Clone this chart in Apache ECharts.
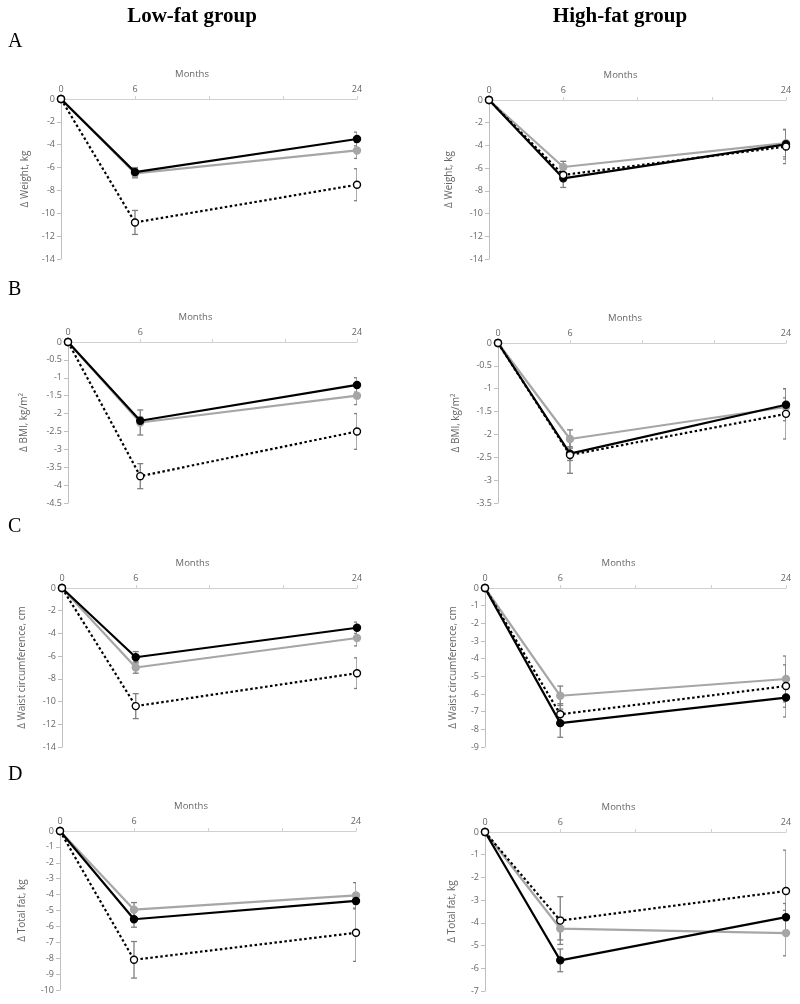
<!DOCTYPE html>
<html><head><meta charset="utf-8">
<script src="https://cdn.jsdelivr.net/npm/echarts@6/dist/echarts.min.js"></script>
<style>html,body{margin:0;padding:0;background:#fff}#c{width:800px;height:1004px}</style>
</head><body><div id="c"></div>
<script>
// ---- data ----
const months = [0, 6, 24];
const monthTickLabels = [0, 6, 24];
const columnTitles = ['Low-fat group', 'High-fat group'];
const rowLetters = ['A', 'B', 'C', 'D'];
const yNames = ['\u0394 Weight, kg', '\u0394 BMI, kg/m\u00b2', '\u0394 Waist circumference, cm', '\u0394 Total fat, kg'];
const xName = 'Months';

// Low-fat: weight
const lfWeightBlack = [0, -6.4, -3.5],  lfWeightBlackErr = [0, 0.4, 0.6];
const lfWeightGrey  = [0, -6.5, -4.5],  lfWeightGreyErr  = [0, 0.4, 0.7];
const lfWeightOpen  = [0, -10.8, -7.5], lfWeightOpenErr  = [0, 1.05, 1.4];
// High-fat: weight
const hfWeightBlack = [0, -6.9, -3.9],  hfWeightBlackErr = [0, 0.8, 1.3];
const hfWeightGrey  = [0, -5.9, -3.8],  hfWeightGreyErr  = [0, 0.5, 1.2];
const hfWeightOpen  = [0, -6.6, -4.1],  hfWeightOpenErr  = [0, 0.5, 1.5];
// Low-fat: BMI
const lfBmiBlack = [0, -2.2, -1.2],   lfBmiBlackErr = [0, 0.1, 0.2];
const lfBmiGrey  = [0, -2.25, -1.5],  lfBmiGreyErr  = [0, 0.35, 0.25];
const lfBmiOpen  = [0, -3.75, -2.5],  lfBmiOpenErr  = [0, 0.35, 0.5];
// High-fat: BMI
const hfBmiBlack = [0, -2.42, -1.35], hfBmiBlackErr = [0, 0.15, 0.35];
const hfBmiGrey  = [0, -2.1, -1.4],   hfBmiGreyErr  = [0, 0.2, 0.2];
const hfBmiOpen  = [0, -2.45, -1.55], hfBmiOpenErr  = [0, 0.4, 0.55];
// Low-fat: waist
const lfWaistBlack = [0, -6.1, -3.5],  lfWaistBlackErr = [0, 0.5, 0.5];
const lfWaistGrey  = [0, -7.0, -4.4],  lfWaistGreyErr  = [0, 0.5, 0.7];
const lfWaistOpen  = [0, -10.4, -7.5], lfWaistOpenErr  = [0, 1.1, 1.35];
// High-fat: waist
const hfWaistBlack = [0, -7.65, -6.2], hfWaistBlackErr = [0, 0.8, 1.1];
const hfWaistGrey  = [0, -6.1, -5.15], hfWaistGreyErr  = [0, 0.55, 1.3];
const hfWaistOpen  = [0, -7.15, -5.55],hfWaistOpenErr  = [0, 0.6, 1.2];
// Low-fat: total fat
const lfFatBlack = [0, -5.55, -4.4], lfFatBlackErr = [0, 0.5, 0.5];
const lfFatGrey  = [0, -4.95, -4.05],lfFatGreyErr  = [0, 0.45, 0.8];
const lfFatOpen  = [0, -8.1, -6.4],  lfFatOpenErr  = [0, 1.15, 1.8];
// High-fat: total fat
const hfFatBlack = [0, -5.65, -3.75], hfFatBlackErr = [0, 0.5, 0.6];
const hfFatGrey  = [0, -4.25, -4.45], hfFatGreyErr  = [0, 0.5, 1.0];
const hfFatOpen  = [0, -3.9, -2.6],   hfFatOpenErr  = [0, 1.05, 1.8];

// y axis ranges [min, interval]
const yRanges = [[-14, 2], [-14, 2], [-4.5, 0.5], [-3.5, 0.5], [-14, 2], [-9, 1], [-10, 1], [-7, 1]];

// ---- layout ----
const panels = [
  {row:0, col:0, box:[61, 99, 296, 160], nameGap:31, s:[lfWeightBlack, lfWeightGrey, lfWeightOpen], e:[lfWeightBlackErr, lfWeightGreyErr, lfWeightOpenErr]},
  {row:0, col:1, box:[489, 100, 297, 159], nameGap:35, s:[hfWeightBlack, hfWeightGrey, hfWeightOpen], e:[hfWeightBlackErr, hfWeightGreyErr, hfWeightOpenErr]},
  {row:1, col:0, box:[68, 342, 289, 161], nameGap:39, s:[lfBmiBlack, lfBmiGrey, lfBmiOpen], e:[lfBmiBlackErr, lfBmiGreyErr, lfBmiOpenErr]},
  {row:1, col:1, box:[498, 343, 288, 160], nameGap:37, s:[hfBmiBlack, hfBmiGrey, hfBmiOpen], e:[hfBmiBlackErr, hfBmiGreyErr, hfBmiOpenErr]},
  {row:2, col:0, box:[62, 588, 295, 159], nameGap:35, s:[lfWaistBlack, lfWaistGrey, lfWaistOpen], e:[lfWaistBlackErr, lfWaistGreyErr, lfWaistOpenErr]},
  {row:2, col:1, box:[485, 588, 301, 159], nameGap:27, s:[hfWaistBlack, hfWaistGrey, hfWaistOpen], e:[hfWaistBlackErr, hfWaistGreyErr, hfWaistOpenErr]},
  {row:3, col:0, box:[60, 831, 296, 159], nameGap:33, s:[lfFatBlack, lfFatGrey, lfFatOpen], e:[lfFatBlackErr, lfFatGreyErr, lfFatOpenErr]},
  {row:3, col:1, box:[485, 832, 301, 159], nameGap:28, s:[hfFatBlack, hfFatGrey, hfFatOpen], e:[hfFatBlackErr, hfFatGreyErr, hfFatOpenErr]}
];

const TXT = '#666666', AX = '#d0d0d0', GREY = '#a6a6a6', ERR = '#7f7f7f';
const FONT = '"Open Sans", "Noto Sans", sans-serif';

const grid = [], xAxis = [], yAxis = [], series = [], graphic = [];

const titleX = [192, 620];
columnTitles.forEach((t, i) => graphic.push({type:'text', x: titleX[i], y: 17,
  style:{text:t, fill:'#000', font:'bold 21px "Liberation Serif", "Times New Roman", serif', textAlign:'center', textVerticalAlign:'middle'}}));
const letterY = [42, 290, 527, 775];
rowLetters.forEach((t, i) => graphic.push({type:'text', x:8, y:letterY[i],
  style:{text:t, fill:'#000', font:'20px "Liberation Serif", "Times New Roman", serif', textAlign:'left', textVerticalAlign:'middle'}}));

panels.forEach((p, k) => {
  const [L, T, W, H] = p.box;
  grid.push({left:L, top:T, width:W, height:H, containLabel:false});
  graphic.push({type:'text', x: L + W/2 - 17, y: T - 25,
    style:{text:xName, fill:TXT, font:'9.5px ' + FONT, textAlign:'center', textVerticalAlign:'middle'}});
  xAxis.push({type:'value', gridIndex:k, position:'top', min:0, max:24, interval:6,
    axisLine:{show:true, onZero:false, lineStyle:{color:AX, width:1}},
    axisTick:{show:true, inside:false, length:3, lineStyle:{color:AX}},
    splitLine:{show:false},
    axisLabel:{color:TXT, fontSize:9, fontFamily:FONT, margin:5,
      formatter: v => monthTickLabels.includes(v) ? String(v) : ''}});
  const [mn, iv] = yRanges[k];
  yAxis.push({type:'value', gridIndex:k, min:mn, max:0, interval:iv,
    name: yNames[p.row], nameLocation:'middle', nameGap:p.nameGap, nameRotate:90,
    nameTextStyle:{color:TXT, fontSize:10, fontFamily:FONT},
    axisLine:{show:true, onZero:false, lineStyle:{color:'#bfbfbf', width:1}},
    axisTick:{show:true, inside:false, length:4, lineStyle:{color:'#bfbfbf'}},
    splitLine:{show:false},
    axisLabel:{color:TXT, fontSize:9, fontFamily:FONT, margin:6}});

  const styles = [
    {color:'#000', type:'solid', fill:'#000', border:'#000'},
    {color:GREY, type:'solid', fill:GREY, border:GREY},
    {color:'#000', type:[2.5, 2.5], fill:'#fff', border:'#000'}
  ];
  const errData = [];
  [1, 0, 2].forEach(si => {
    months.forEach((m, j) => {
      if (p.e[si][j] > 0) errData.push([m, p.s[si][j] - p.e[si][j], p.s[si][j] + p.e[si][j]]);
    });
  });
  series.push({type:'custom', xAxisIndex:k, yAxisIndex:k, clip:true, z:1, silent:true,
    data: errData,
    renderItem: (params, api) => {
      const x = api.value(0);
      const a = api.coord([x, api.value(1)]);
      const b = api.coord([x, api.value(2)]);
      const c = 3;
      const ls = {stroke:ERR, lineWidth:1.3};
      return {type:'group', children:[
        {type:'line', shape:{x1:a[0], y1:a[1], x2:b[0], y2:b[1]}, style:ls},
        {type:'line', shape:{x1:a[0]-c, y1:a[1], x2:a[0]+c, y2:a[1]}, style:ls},
        {type:'line', shape:{x1:b[0]-c, y1:b[1], x2:b[0]+c, y2:b[1]}, style:ls}
      ]};
    }});
  [1, 0, 2].forEach((si, zi) => {
    const st = styles[si];
    series.push({type:'line', xAxisIndex:k, yAxisIndex:k, z:3 + zi,
      data: months.map((m, j) => [m, p.s[si][j]]),
      symbol:'circle', symbolSize:7, showAllSymbol:true,
      lineStyle:{color:st.color, width:2.2, type:st.type},
      itemStyle:{color:st.fill, borderColor:st.border, borderWidth:1.4},
      animation:false});
  });
});

const chart = echarts.init(document.getElementById('c'), null, {renderer:'canvas'});
chart.setOption({animation:false, backgroundColor:'#fff', grid, xAxis, yAxis, series, graphic});
</script></body></html>
